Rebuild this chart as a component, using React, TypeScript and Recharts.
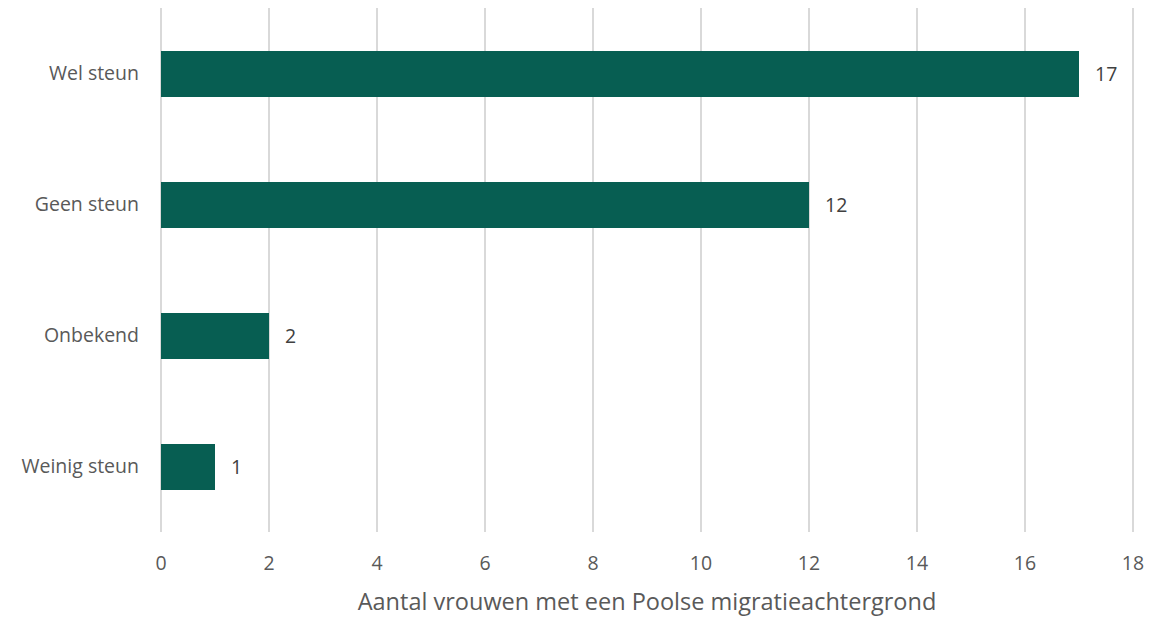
import React from "react";
import { BarChart, Bar, XAxis, YAxis, CartesianGrid, LabelList } from "recharts";

const categories = ["Wel steun", "Geen steun", "Onbekend", "Weinig steun"];
const values = [17, 12, 2, 1];
const xTicks = [0, 2, 4, 6, 8, 10, 12, 14, 16, 18];
const xTitle = "Aantal vrouwen met een Poolse migratieachtergrond";

const data = categories.map((c, i) => ({ name: c, value: values[i] }));

const FONT = "'Open Sans', sans-serif";

export default function App() {
  return (
    <div style={{ position: "absolute", left: 0, top: 0, width: 1154, height: 619, background: "#fff" }}>
      <BarChart
        width={1154}
        height={619}
        data={data}
        layout="vertical"
        margin={{ top: 8, right: 21, bottom: 0, left: 0 }}
      >
        <CartesianGrid horizontal={false} vertical={true} stroke="#d9d9d9" strokeWidth={2} />
        <XAxis
          type="number"
          domain={[0, 18]}
          ticks={xTicks}
          interval={0}
          axisLine={false}
          tickLine={false}
          tickMargin={18}
          height={87}
          tick={{ fill: "#595959", fontSize: 19.5, fontFamily: FONT }}
          label={{
            value: xTitle,
            position: "insideBottom",
            offset: 9,
            fill: "#595959",
            fontSize: 23.5,
            fontFamily: FONT,
          }}
        />
        <YAxis
          type="category"
          dataKey="name"
          width={161}
          axisLine={false}
          tickLine={false}
          tickMargin={16}
          tick={{ fill: "#595959", fontSize: 19.5, fontFamily: FONT }}
        />
        <Bar dataKey="value" fill="#075E52" barSize={46} isAnimationActive={false}>
          <LabelList
            dataKey="value"
            position="right"
            offset={16}
            fill="#404040"
            fontSize={19.5}
            fontFamily={FONT}
          />
        </Bar>
      </BarChart>
    </div>
  );
}
